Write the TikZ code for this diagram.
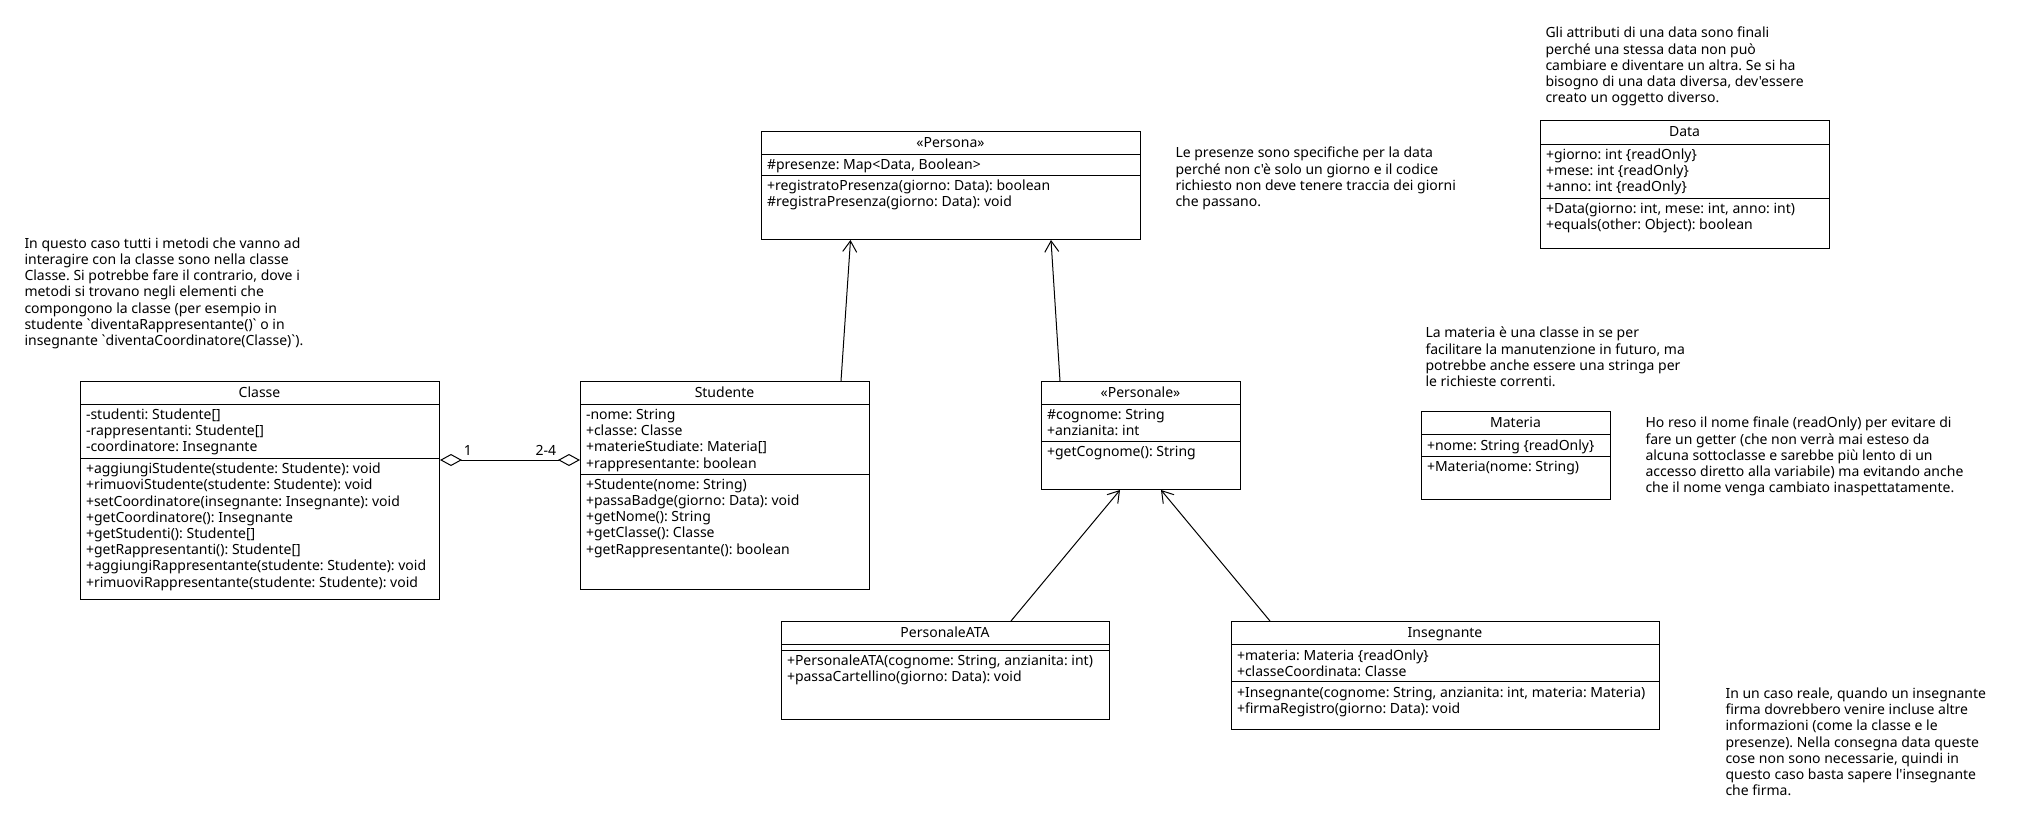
\documentclass[tikz,border=0pt]{standalone}
\usepackage{fontspec}
\setmainfont{Noto Sans}[Ligatures=TeXOff]
\usetikzlibrary{arrows.meta}
\frenchspacing

\begin{document}
\begin{tikzpicture}[x=1pt, y=-1pt, line width=1pt,
    font=\fontsize{14}{16.2}\selectfont,
    umlclass/.style={draw, anchor=north west, inner sep=0pt},
    umltitle/.style={anchor=base},
    members/.style={anchor=base west, align=left, inner sep=0pt},
    note/.style={anchor=base west, align=left, inner sep=0pt},
    agg/.style={{Diamond[open, length=22pt, width=12pt]}-{Diamond[open, length=22pt, width=12pt]}},
    >={Straight Barb[length=11pt, width=14pt]}]

    \useasboundingbox[fill=white] (0,0) rectangle (2020,830);

    \node[umlclass, minimum width=359, minimum height=218] (classe) at (80,381) {};
    \node[umltitle] (classe-t) at (259.5,397.5) {Classe};
    \draw (classe.west |- 0,404.5) -- (classe.east |- 0,404.5);
    \node[members] (classe-a) at (85.5,451.9) {-studenti: Studente[]\\-rappresentanti: Studente[]\\-coordinatore: Insegnante};
    \draw (classe.west |- 0,458.7) -- (classe.east |- 0,458.7);
    \node[members] (classe-m) at (85.5,587.1) {+aggiungiStudente(studente: Studente): void\\+rimuoviStudente(studente: Studente): void\\+setCoordinatore(insegnante: Insegnante): void\\+getCoordinatore(): Insegnante\\+getStudenti(): Studente[]\\+getRappresentanti(): Studente[]\\+aggiungiRappresentante(studente: Studente): void\\+rimuoviRappresentante(studente: Studente): void};

    \node[umlclass, minimum width=289, minimum height=208] (studente) at (580,381) {};
    \node[umltitle] (studente-t) at (724.5,397.5) {Studente};
    \draw (studente.west |- 0,404.5) -- (studente.east |- 0,404.5);
    \node[members] (studente-a) at (585.5,468.1) {-nome: String\\+classe: Classe\\+materieStudiate: Materia[]\\+rappresentante: boolean};
    \draw (studente.west |- 0,474.3) -- (studente.east |- 0,474.3);
    \node[members] (studente-m) at (585.5,554.1) {+Studente(nome: String)\\+passaBadge(giorno: Data): void\\+getNome(): String\\+getClasse(): Classe\\+getRappresentante(): boolean};

    \node[umlclass, minimum width=379, minimum height=108] (persona) at (761,131) {};
    \node[umltitle] (persona-t) at (950.5,147.5) {«Persona»};
    \draw (persona.west |- 0,154.5) -- (persona.east |- 0,154.5);
    \node[members] (persona-a) at (766.5,169.5) {\#presenze: Map<Data, Boolean>};
    \draw (persona.west |- 0,175.7) -- (persona.east |- 0,175.7);
    \node[members] (persona-m) at (766.5,206.9) {+registratoPresenza(giorno: Data): boolean\\\#registraPresenza(giorno: Data): void};

    \node[umlclass, minimum width=199, minimum height=108] (personale) at (1041,381) {};
    \node[umltitle] (personale-t) at (1140.5,397.5) {«Personale»};
    \draw (personale.west |- 0,404.5) -- (personale.east |- 0,404.5);
    \node[members] (personale-a) at (1046.5,435.7) {\#cognome: String\\+anzianita: int};
    \draw (personale.west |- 0,441.5) -- (personale.east |- 0,441.5);
    \node[members] (personale-m) at (1046.5,456.5) {+getCognome(): String};

    \node[umlclass, minimum width=328, minimum height=98] (ata) at (781,621) {};
    \node[umltitle] (ata-t) at (945,637.5) {PersonaleATA};
    \draw (ata.west |- 0,644.5) -- (ata.east |- 0,644.5);
    \draw (ata.west |- 0,650.3) -- (ata.east |- 0,650.3);
    \node[members] (ata-m) at (786.5,681.5) {+PersonaleATA(cognome: String, anzianita: int)\\+passaCartellino(giorno: Data): void};

    \node[umlclass, minimum width=428, minimum height=108] (insegnante) at (1231,621) {};
    \node[umltitle] (insegnante-t) at (1445,637.5) {Insegnante};
    \draw (insegnante.west |- 0,644.5) -- (insegnante.east |- 0,644.5);
    \node[members] (insegnante-a) at (1236.5,676.2) {+materia: Materia \{readOnly\}\\+classeCoordinata: Classe};
    \draw (insegnante.west |- 0,681.7) -- (insegnante.east |- 0,681.7);
    \node[members] (insegnante-m) at (1236.5,713.2) {+Insegnante(cognome: String, anzianita: int, materia: Materia)\\+firmaRegistro(giorno: Data): void};

    \node[umlclass, minimum width=289, minimum height=128] (data) at (1540,120) {};
    \node[umltitle] (data-t) at (1684.5,136.5) {Data};
    \draw (data.west |- 0,144.3) -- (data.east |- 0,144.3);
    \node[members] (data-a) at (1545.5,191.9) {+giorno: int \{readOnly\}\\+mese: int \{readOnly\}\\+anno: int \{readOnly\}};
    \draw (data.west |- 0,198.3) -- (data.east |- 0,198.3);
    \node[members] (data-m) at (1545.5,229.7) {+Data(giorno: int, mese: int, anno: int)\\+equals(other: Object): boolean};

    \node[umlclass, minimum width=189, minimum height=88] (materia) at (1421,411) {};
    \node[umltitle] (materia-t) at (1515.5,427.5) {Materia};
    \draw (materia.west |- 0,434.6) -- (materia.east |- 0,434.6);
    \node[members] (materia-a) at (1426.5,450) {+nome: String \{readOnly\}};
    \draw (materia.west |- 0,456) -- (materia.east |- 0,456);
    \node[members] (materia-m) at (1426.5,471) {+Materia(nome: String)};

    \node[note] (nota-classe) at (24,345.5) {In questo caso tutti i metodi che vanno ad\\interagire con la classe sono nella classe\\Classe. Si potrebbe fare il contrario, dove i\\metodi si trovano negli elementi che\\compongono la classe (per esempio in\\studente `diventaRappresentante()` o in\\insegnante `diventaCoordinatore(Classe)`).};
    \node[note] (nota-presenze) at (1175,206.4) {Le presenze sono specifiche per la data\\perché non c'è solo un giorno e il codice\\richiesto non deve tenere traccia dei giorni\\che passano.};
    \node[note] (nota-data) at (1545,102.6) {Gli attributi di una data sono finali\\perché una stessa data non può\\cambiare e diventare un altra. Se si ha\\bisogno di una data diversa, dev'essere\\creato un oggetto diverso.};
    \node[note] (nota-materia) at (1425,386.4) {La materia è una classe in se per\\facilitare la manutenzione in futuro, ma\\potrebbe anche essere una stringa per\\le richieste correnti.};
    \node[note] (nota-nome) at (1645,492.6) {Ho reso il nome finale (readOnly) per evitare di\\fare un getter (che non verrà mai esteso da\\alcuna sottoclasse e sarebbe più lento di un\\accesso diretto alla variabile) ma evitando anche\\che il nome venga cambiato inaspettatamente.};
    \node[note] (nota-firma) at (1725,795.7) {In un caso reale, quando un insegnante\\firma dovrebbero venire incluse altre\\informazioni (come la classe e le\\presenze). Nella consegna data queste\\cose non sono necessarie, quindi in\\questo caso basta sapere l'insegnante\\che firma.};

    \draw[agg] (classe.east |- 0,460) -- (studente.west |- 0,460);
    \node[anchor=base west] (molt-classe) at (460,455.5) {1};
    \node[anchor=base east] (molt-studenti) at (560,455.5) {2-4};

    \path [->] (studente.north -| 841,0) edge (persona.south -| 850.5,0);
    \path [->] (personale.north -| 1060,0) edge (persona.south -| 1051,0);
    \path [->] (ata.north -| 1011,0) edge (personale.south -| 1120,0);
    \path [->] (insegnante.north -| 1270,0) edge (personale.south -| 1161,0);

\end{tikzpicture}
\end{document}
